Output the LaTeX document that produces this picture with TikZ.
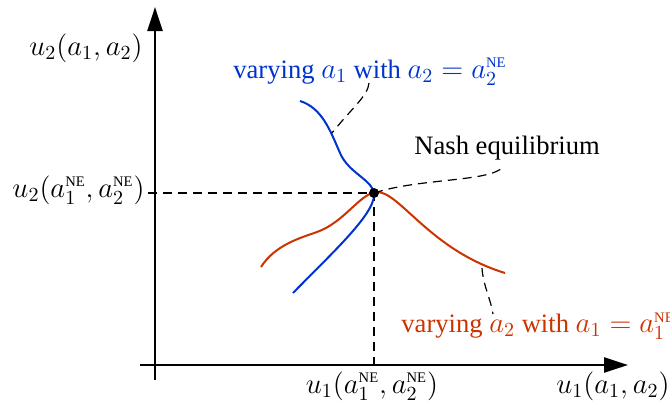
\documentclass[tikz,border=0pt]{standalone}
\usepackage{fontspec}
\setmainfont{Liberation Serif}
\usetikzlibrary{arrows.meta}
\definecolor{cblue}{RGB}{0,51,204}
\definecolor{cred}{RGB}{204,51,0}
\newcommand\mth[1]{{\fontsize{14.6}{17}\selectfont$#1$}}
\newcommand\NEsup{{\scriptscriptstyle\mathrm{NE}}}
\begin{document}
\begin{tikzpicture}[x=0.5pt,y=-0.5pt,
  lab/.style={font=\fontsize{13.3}{15}\selectfont, inner sep=1pt},
  axis/.style={line width=1.25pt, -{Triangle[length=12pt,width=7.5pt]}},
  guide/.style={dashed, dash pattern=on 4.5pt off 3pt, line width=0.6pt},
  curve/.style={line width=1pt}]
\useasboundingbox (0,0) rectangle (670,408);
% axes
\coordinate (xs) at (140,365);
\coordinate (xe) at (628,365);
\coordinate (ys) at (155,380);
\coordinate (ye) at (155,7);
\draw[axis] (xs) -- (xe);
\draw[axis] (ys) -- (ye);
% Nash point and guides
\coordinate (ne) at (374,193);
\coordinate (yt) at (148,193);
\coordinate (xt) at (374,372);
\draw[guide] (yt) -- (ne) -- (xt);
% curves
\draw[curve, cred] (261,267) .. controls (275,245) and (300,238) .. (317,232)
  .. controls (345,222) and (360,193) .. (377,192)
  .. controls (400,192) and (430,250) .. (505,273);
\draw[curve, cblue] (300,101) .. controls (322,108) and (330,130) .. (340,153)
  .. controls (349,174) and (374,180) .. (374,195)
  .. controls (374,215) and (330,255) .. (293,293);
\fill (ne) circle (5);
% labels
\node[lab, anchor=east] (ly) at (145,48) {\mth{u_2(a_1,a_2)}};
\node[lab, anchor=east] (lyne) at (147,190) {\mth{u_2(a_1^\NEsup,a_2^\NEsup)}};
\node[lab] (lxne) at (372,386) {\mth{u_1(a_1^\NEsup,a_2^\NEsup)}};
\node[lab, anchor=east] (lx) at (672,386) {\mth{u_1(a_1,a_2)}};
\node[lab, cblue] (lb) at (370,72) {varying \mth{a_1} with \mth{a_2=a_2^\NEsup}};
\node[lab, anchor=west] (ln) at (412,148) {Nash equilibrium};
\node[lab, cred, anchor=west] (lr) at (399,326) {varying \mth{a_2} with \mth{a_1=a_1^\NEsup}};
% pointers
\coordinate (pb1) at (369,83);
\coordinate (pb2) at (332,133);
\draw[guide] (pb1) .. controls (368,96) and (350,110) .. (pb2);
\coordinate (pn) at (503,167);
\draw[guide] (ne) .. controls (420,178) and (490,182) .. (pn);
\coordinate (pr1) at (482,268);
\coordinate (pr2) at (493,314);
\draw[guide] (pr1) .. controls (483,285) and (491,300) .. (pr2);
\end{tikzpicture}
\end{document}
